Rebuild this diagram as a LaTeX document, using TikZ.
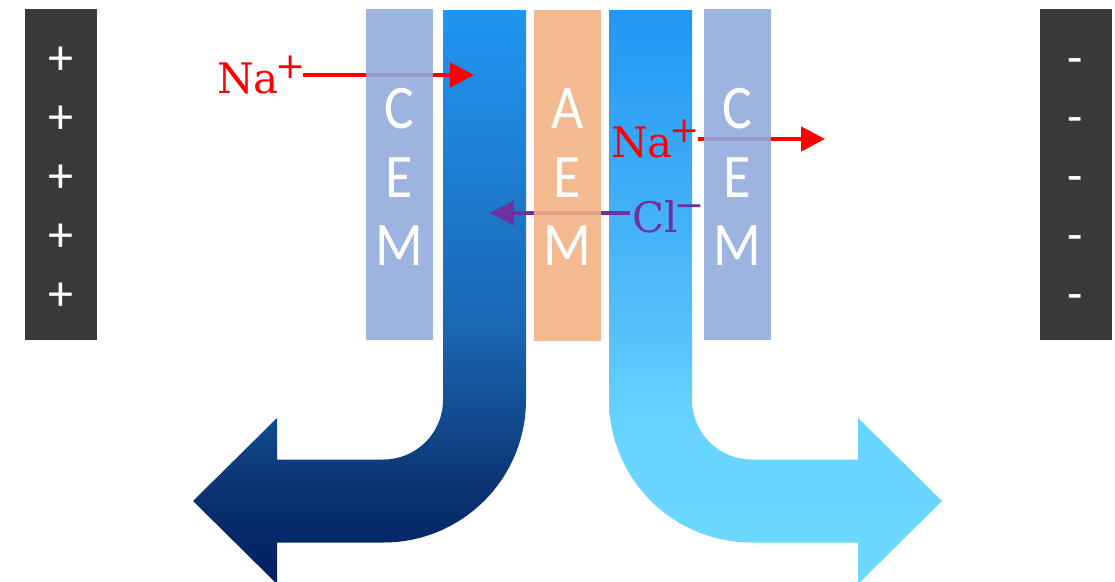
\documentclass[tikz,border=0pt]{standalone}
\usepackage{fontspec}
\newfontfamily\lettersfont{Carlito}
\newfontfamily\ionfont{DejaVu Serif}
\usetikzlibrary{arrows.meta}
\definecolor{electrode}{RGB}{58,57,56}
\definecolor{cemcol}{RGB}{144,170,220}
\definecolor{aemcol}{RGB}{241,177,130}
\definecolor{ionred}{RGB}{255,0,0}
\definecolor{ionpurple}{RGB}{112,48,160}
\definecolor{lA}{HTML}{2196F3}
\definecolor{lB}{HTML}{1A66B1}
\definecolor{lC}{HTML}{124A8D}
\definecolor{lD}{HTML}{0A306E}
\definecolor{lE}{HTML}{002060}
\definecolor{rA}{HTML}{2196F3}
\definecolor{rB}{HTML}{57C0FA}
\definecolor{rC}{HTML}{67D3FF}
\definecolor{rD}{HTML}{6ED9FF}
\pgfdeclareverticalshading{leftflow}{100bp}{color(0bp)=(lE); color(25bp)=(lE); color(32.3bp)=(lD); color(39.3bp)=(lC); color(47.1bp)=(lB); color(75bp)=(lA); color(100bp)=(lA)}
\pgfdeclareverticalshading{rightflow}{100bp}{color(0bp)=(rD); color(25bp)=(rD); color(39.3bp)=(rC); color(47.1bp)=(rB); color(75bp)=(rA); color(100bp)=(rA)}
\newcommand{\ionsup}[1]{\kern-3pt\raisebox{15pt}{\fontsize{36}{36}\selectfont #1}}
\tikzset{
  electrodebox/.style={fill=electrode, draw=none, anchor=north west, inner sep=0pt, minimum width=72pt, minimum height=331pt},
  membrane/.style={draw=none, fill opacity=0.88, anchor=north west, inner sep=0pt, minimum width=67pt, minimum height=331pt},
  cembox/.style={membrane, fill=cemcol},
  aembox/.style={membrane, fill=aemcol},
  memletter/.style={text=white, font=\lettersfont\fontsize{62}{62}\selectfont, anchor=base, inner sep=0pt, xscale=0.9},
  signtext/.style={text=white, font=\lettersfont\fontsize{50}{50}\selectfont, anchor=base, inner sep=0pt},
  iontext/.style={font=\ionfont\fontsize{42}{46}\selectfont, anchor=base west, inner sep=0pt},
  ionarrow/.style={line width=4.5pt, -{Triangle[length=24pt, width=24pt]}},
}
\begin{document}
\begin{tikzpicture}[x=1pt, y=-1pt]
\useasboundingbox (0,0) rectangle (1115,581);
\clip (0,0) rectangle (1115,581);
% electrodes
\node[electrodebox] (anode) at (25,9) {};
\node[electrodebox] (cathode) at (1040,9) {};
\foreach \yy [count=\i] in {74,133,192,251,310} {
  \node[signtext] (plus\i) at (60.5,\yy) {+};
  \node[signtext] (minus\i) at (1075.5,\yy) {-};
}
% flow arrows
\shade[shading=leftflow] (443,10) -- (526,10) -- (526,400)
  arc[start angle=0, end angle=-90, radius=142.5pt] -- (277,542.5) -- (277,584)
  -- (193,501) -- (277,418) -- (277,459.5) -- (383.5,459.5)
  arc[start angle=-90, end angle=0, radius=59.5pt] -- cycle;
\shade[shading=rightflow] (609,10) -- (692,10) -- (692,400)
  arc[start angle=180, end angle=270, radius=59.5pt] -- (858,459.5) -- (858,418)
  -- (942,501) -- (858,584) -- (858,542.5) -- (751.5,542.5)
  arc[start angle=270, end angle=180, radius=142.5pt] -- cycle;
% ion labels and migration arrows
\node[iontext, text=ionred] (na1) at (217,93) {Na\ionsup{+}};
\node[iontext, text=ionred] (na2) at (611,157) {Na\ionsup{+}};
\node[iontext, text=ionpurple] (cl) at (632,232) {Cl\ionsup{−}};
\coordinate (na1s) at (303,75);
\coordinate (na1e) at (474,75);
\coordinate (na2s) at (698,139);
\coordinate (na2e) at (825,139);
\coordinate (cls) at (630,213);
\coordinate (cle) at (490,213);
\draw[ionarrow, ionred] (na1s) -- (na1e);
\draw[ionarrow, ionred] (na2s) -- (na2e);
\draw[ionarrow, ionpurple] (cls) -- (cle);
% membranes
\node[cembox] (cem1) at (366,9) {};
\node[aembox] (aem) at (534,10) {};
\node[cembox] (cem2) at (704,9) {};
\foreach \m/\xx/\la/\lb/\lc in {cem1/399.5/C/E/M, aem/567.5/A/E/M, cem2/737.5/C/E/M} {
  \node[memletter] (\m-1) at (\xx,128) {\la};
  \node[memletter] (\m-2) at (\xx,197) {\lb};
  \node[memletter] (\m-3) at (\xx,265) {\lc};
}
\end{tikzpicture}
\end{document}
